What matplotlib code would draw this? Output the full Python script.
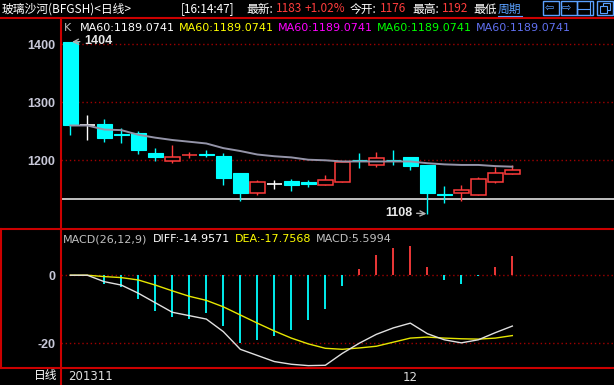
# plot.py
# K-line chart (daily) of 玻璃沙河 with MA60 and MACD panel

# Imports --------------------------------------------

import matplotlib
matplotlib.use('Agg')
import matplotlib.pyplot as plt
from matplotlib.lines import Line2D
from matplotlib.patches import Rectangle

# Data --------------------------------------------

opens  = [1404, 1260, 1263, 1245, 1247, 1213, 1198, 1209, 1211, 1207, 1178, 1144, 1159, 1164,
          1163, 1158, 1163, 1201, 1192, 1201, 1206, 1192, 1142, 1144, 1141, 1163, 1176]
closes = [1260, 1260, 1239, 1244, 1218, 1206, 1205, 1210, 1210, 1170, 1144, 1162, 1159, 1158,
          1160, 1166, 1197, 1200, 1204, 1200, 1191, 1144, 1141, 1148, 1167, 1178, 1183]
highs  = [1404, 1278, 1271, 1255, 1250, 1221, 1226, 1214, 1217, 1213, 1178, 1166, 1166, 1167,
          1166, 1175, 1197, 1213, 1214, 1218, 1206, 1192, 1156, 1157, 1171, 1189, 1192]
lows   = [1244, 1235, 1232, 1230, 1211, 1199, 1196, 1204, 1206, 1157, 1130, 1141, 1151, 1147,
          1154, 1158, 1163, 1186, 1189, 1192, 1184, 1108, 1127, 1130, 1141, 1161, 1176]
ma60   = [1260, 1260, 1253, 1252, 1244, 1239, 1235, 1232, 1229, 1221, 1216, 1210, 1207, 1205,
          1201, 1200, 1198, 1198, 1198, 1198, 1198, 1195, 1193, 1192, 1192, 1190, 1189]
diff   = [0, 0, -1.9, -2.9, -5.3, -8.1, -10.9, -11.9, -12.9, -16.6, -21.8, -23.6, -25.4, -26.2,
          -26.6, -26.5, -23.0, -20.0, -17.4, -15.5, -14.1, -17.2, -19.0, -19.9, -19.0, -16.9, -14.96]
dea    = [0, 0, -0.4, -0.7, -1.4, -2.9, -4.6, -6.2, -7.4, -9.3, -11.7, -14.1, -16.4, -18.5,
          -20.2, -21.5, -21.8, -21.4, -20.9, -19.7, -18.5, -18.2, -18.5, -18.7, -18.8, -18.5, -17.76]
macd   = [0, 0, -2.5, -3.4, -6.9, -10.4, -12.2, -12.9, -11.1, -14.8, -19.9, -19.2, -18.0, -16.0,
          -13.3, -9.9, -3.1, 1.9, 6.0, 8.0, 8.6, 2.4, -1.4, -2.6, -0.2, 2.4, 5.6]

price_ticks = [1200, 1300, 1400]
macd_ticks = [0, -20]
line_level = 1133          # white horizontal line across the price panel
month_tick = 20            # first bar of December
month_label = '12'
start_label = '201311'

# Presets --------------------------------------------

W, H = 614, 385
BG = 'black'
CYAN = '#00ffff'
RED = '#ff3c3c'
BORDER = '#cc0000'
GRID = '#a00000'
AXCOL = '#c8c8d8'
CJK = ['Noto Sans CJK SC', 'DejaVu Sans']
NUMFONT = 'Liberation Sans'

plt.rcParams['font.family'] = CJK

def fx(x):
    return x / W

def fy(y):
    return 1 - y / H

fig = plt.figure(figsize=(W / 100, H / 100), dpi=100, facecolor=BG)

# axes in pixel layout
left, right = 61, 614
ax = fig.add_axes([fx(left), fy(228), (right - left) / W, (228 - 18) / H], facecolor=BG)
axm = fig.add_axes([fx(left), fy(368), (right - left) / W, (368 - 229) / H], facecolor=BG, sharex=ax)

n = len(closes)
xs = list(range(n))
bw = 15 / 17  # body width in bar units

for a in (ax, axm):
    for s in a.spines.values():
        s.set_visible(False)
    a.tick_params(length=0)

ax.set_xlim(-0.547, 31.98)
ax.set_ylim(1083.3, 1445.3)
axm.set_ylim(-27.3, 13.6)

# Price panel --------------------------------------------

for p in price_ticks:
    ax.axhline(p, color=GRID, lw=1, ls=(0, (1, 2)), zorder=0)
ax.axhline(line_level, color='#d0d0d0', lw=1.3, zorder=1)

for i in xs:
    o, c, h, l = opens[i], closes[i], highs[i], lows[i]
    if c < o:
        col = CYAN
    elif c > o:
        col = RED
    else:
        col = 'white'
    ax.vlines(i, l, h, color=col, lw=1, zorder=2)
    if c == o:
        ax.hlines(c, i - bw / 2, i + bw / 2, color=col, lw=1.2, zorder=3)
    elif c < o:
        ax.add_patch(Rectangle((i - bw / 2, c), bw, o - c, facecolor=col, edgecolor=col, lw=0.8, zorder=3))
    else:
        ax.add_patch(Rectangle((i - bw / 2, o), bw, c - o, facecolor=BG, edgecolor=col, lw=1.1, zorder=3))

ax.plot(xs, ma60, color='#9494a8', lw=1.4, zorder=4)

ax.set_yticks(price_ticks)
ax.set_yticklabels([str(p) for p in price_ticks], color=AXCOL, fontsize=9,
                   fontweight='bold', family=NUMFONT)
ax.tick_params(axis='y', pad=4)
ax.tick_params(axis='x', labelbottom=False)

hi = highs.index(max(highs))
lo = lows.index(min(lows))
ax.annotate(str(max(highs)), xy=(hi + 0.1, max(highs)), xytext=(12, 1), textcoords='offset pixels',
            ha='left', va='center', color='#e8e8e8', fontsize=9, fontweight='bold', family=NUMFONT,
            arrowprops=dict(arrowstyle='->', color='#b0b0b0', lw=1, shrinkA=1, shrinkB=0))
ax.annotate(str(min(lows)), xy=(lo - 0.05, min(lows)), xytext=(-14, 1), textcoords='offset pixels',
            ha='right', va='center', color='#e8e8e8', fontsize=9, fontweight='bold', family=NUMFONT,
            arrowprops=dict(arrowstyle='->', color='#b0b0b0', lw=1, shrinkA=1, shrinkB=0))

# MACD panel --------------------------------------------

for p in macd_ticks:
    axm.axhline(p, color=GRID, lw=1, ls=(0, (1, 2)), zorder=0)
for i in xs:
    if macd[i] != 0:
        axm.vlines(i, 0, macd[i], color=RED if macd[i] > 0 else CYAN, lw=1.3, zorder=2)
axm.plot(xs, dea, color='#e6e600', lw=1, zorder=3)
axm.plot(xs, diff, color='#e0e0e0', lw=1, zorder=4)

axm.set_yticks(macd_ticks)
axm.set_yticklabels([str(p) for p in macd_ticks], color=AXCOL, fontsize=9,
                    fontweight='bold', family=NUMFONT)
axm.tick_params(axis='y', pad=4)
axm.set_xticks([month_tick])
axm.set_xticklabels([month_label], color='#e0e0e0', fontsize=8.5, family='DejaVu Sans')
axm.tick_params(axis='x', pad=2)

# Borders --------------------------------------------

def fline(x0, y0, x1, y1, col=BORDER, lw=1.5):
    fig.add_artist(Line2D([fx(x0), fx(x1)], [fy(y0), fy(y1)], color=col, lw=lw))

fline(0, 18, W, 18)
fline(0, 228.5, W, 228.5)
fline(0, 368, W, 368)
fline(61, 18, 61, H)
fline(1, 228.5, 1, 368)

# Header texts --------------------------------------------

def ftext(x, y, s, col='white', size=8.5, **kw):
    fig.text(fx(x), fy(y), s, color=col, fontsize=size, ha='left', va='center', **kw)

ftext(2, 9, '玻璃沙河(BFGSH)<日线>')
ftext(181, 9, '[16:14:47]')
ftext(246, 9, '最新:')
ftext(276, 9, '1183', RED)
ftext(305, 9, '+1.02%', RED)
ftext(350, 9, '今开:')
ftext(380, 9, '1176', RED)
ftext(412, 9, '最高:')
ftext(442, 9, '1192', RED)
ftext(473, 9, '最低')
ftext(498, 9, '周期', '#5aa0ff')
fline(498, 16, 522, 16, '#5aa0ff', 0.8)

# window buttons
for bx in [543, 561, 577, 597]:
    fig.add_artist(Rectangle((fx(bx), fy(15)), 16 / W, 14 / H, facecolor='none',
                             edgecolor='#5aa0ff', lw=1, transform=fig.transFigure))
ftext(545, 8, '⇦', '#5aa0ff', 8, family='DejaVu Sans')
ftext(562, 8, '⇨', '#5aa0ff', 8, family='DejaVu Sans')
fline(590, 2, 590, 15, '#5aa0ff', 0.8)
fline(577, 8.5, 590, 8.5, '#5aa0ff', 0.8)
fig.add_artist(Rectangle((fx(603), fy(10)), 7 / W, 7 / H, facecolor='none',
                         edgecolor='#5aa0ff', lw=0.8, transform=fig.transFigure))
fig.add_artist(Rectangle((fx(600), fy(13)), 7 / W, 7 / H, facecolor=BG,
                         edgecolor='#5aa0ff', lw=0.8, transform=fig.transFigure))

# legend line
ftext(64, 28, 'K', '#c0c0c0', 8, family='DejaVu Sans')
ma_cols = ['white', '#ffff00', '#ff00ff', '#00ff00', '#6070f0']
for k, col in enumerate(ma_cols):
    ftext(79.6 + 99 * k, 28, 'MA60:1189.0741', col, 8, family='DejaVu Sans')

# MACD legend
ftext(63, 239, 'MACD(26,12,9)', '#c0c0c0', 8, family='DejaVu Sans')
ftext(153, 239, 'DIFF:-14.9571', 'white', 8, family='DejaVu Sans')
ftext(235, 239, 'DEA:-17.7568', '#ffff00', 8, family='DejaVu Sans')
ftext(316, 239, 'MACD:5.5994', '#c0c0c0', 8, family='DejaVu Sans')

# bottom row labels
fig.text(fx(57), fy(376), '日线', color='white', fontsize=8.5, ha='right', va='center')
ftext(68, 376.5, start_label, '#e0e0e0', 8.5, family='DejaVu Sans')

fig.savefig('out.png', dpi=100, facecolor=BG)
